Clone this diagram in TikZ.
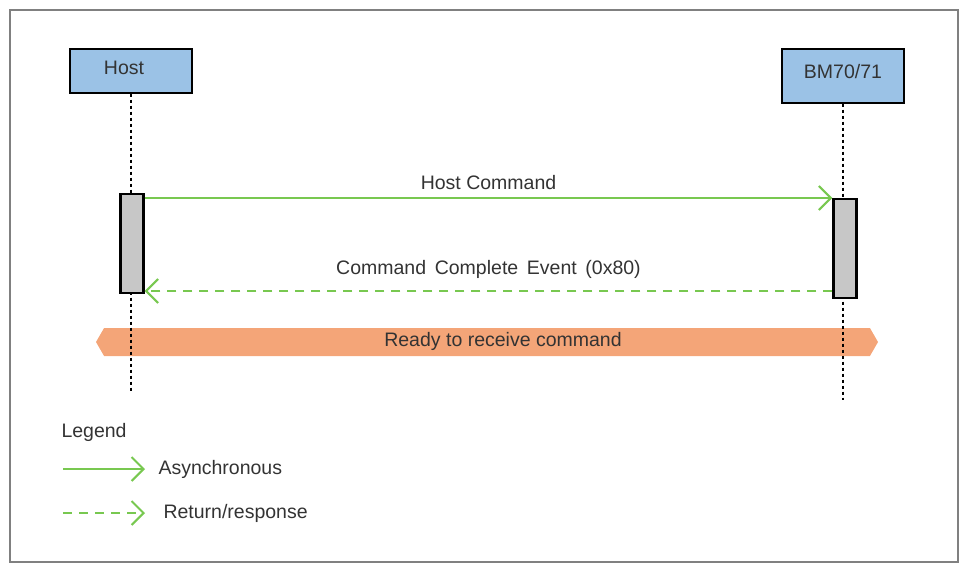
\documentclass[tikz,border=0pt]{standalone}
\usepackage{fontspec}
\setmainfont{Liberation Sans}
\usetikzlibrary{arrows.meta, positioning, shapes.symbols}
\definecolor{boxblue}{RGB}{155,194,230}
\definecolor{msggreen}{RGB}{120,200,80}
\definecolor{bandorange}{RGB}{244,165,120}
\begin{document}
\begin{tikzpicture}[x=1pt, y=-1pt, every node/.style={font=\fontsize{19.5}{23}\selectfont, text=black!80},
  actor/.style={draw, line width=1.6pt, fill=boxblue, minimum width=122pt, anchor=north},
  act/.style={draw, line width=2.4pt, fill=black!22, minimum width=23pt},
  life/.style={dash pattern=on 3pt off 3pt, line width=1.2pt},
  msg/.style={msggreen, line width=2pt, -{Straight Barb[length=12pt, width=24pt, line width=2pt]}},
  ret/.style={msg, dash pattern=on 9pt off 7pt}]
\useasboundingbox (0,0) rectangle (968,571);
\draw[black!50, line width=1.2pt] (10,10) rectangle (958,562);
\node (ready) [signal, signal to=west and east, fill=bandorange, minimum width=782pt, minimum height=28pt, inner sep=0pt, signal pointer angle=120] at (487,342) {};
\node (host) [actor, minimum height=44pt] at (131,48) {};
\node at (124,68) {Host};
\node (bm) [actor, minimum height=54pt] at (843,48) {};
\node at (843,72) {BM70/71};
\coordinate (hostend) at (131,392);
\coordinate (bmend) at (843,400);
\draw[life] (host.south) -- (hostend);
\draw[life] (bm.south) -- (bmend);
\node (hostact) [act, minimum height=99pt, anchor=north] at (132,193) {};
\node (bmact) [act, minimum height=99pt, anchor=north] at (845,198) {};
\draw[msg] (hostact.east |- 0,198) -- node[above=4pt]{Host Command} (bmact.west |- 0,198);
\draw[ret] (bmact.west |- 0,291) -- node[above=8pt]{Command\, Complete\, Event\, (0x80)} (hostact.east |- 0,291);
\node at (503,341) {Ready to receive command};
\node (legend) [anchor=west] at (58,432) {Legend};
\coordinate (a1) at (63,469);
\coordinate (a2) at (145,469);
\coordinate (r1) at (63,513);
\coordinate (r2) at (145,513);
\draw[msg] (a1) -- (a2);
\draw[ret] (r1) -- (r2);
\node (async) [anchor=west] at (155,469) {Asynchronous};
\node (return) [anchor=west] at (160,513) {Return/response};
\end{tikzpicture}
\end{document}
